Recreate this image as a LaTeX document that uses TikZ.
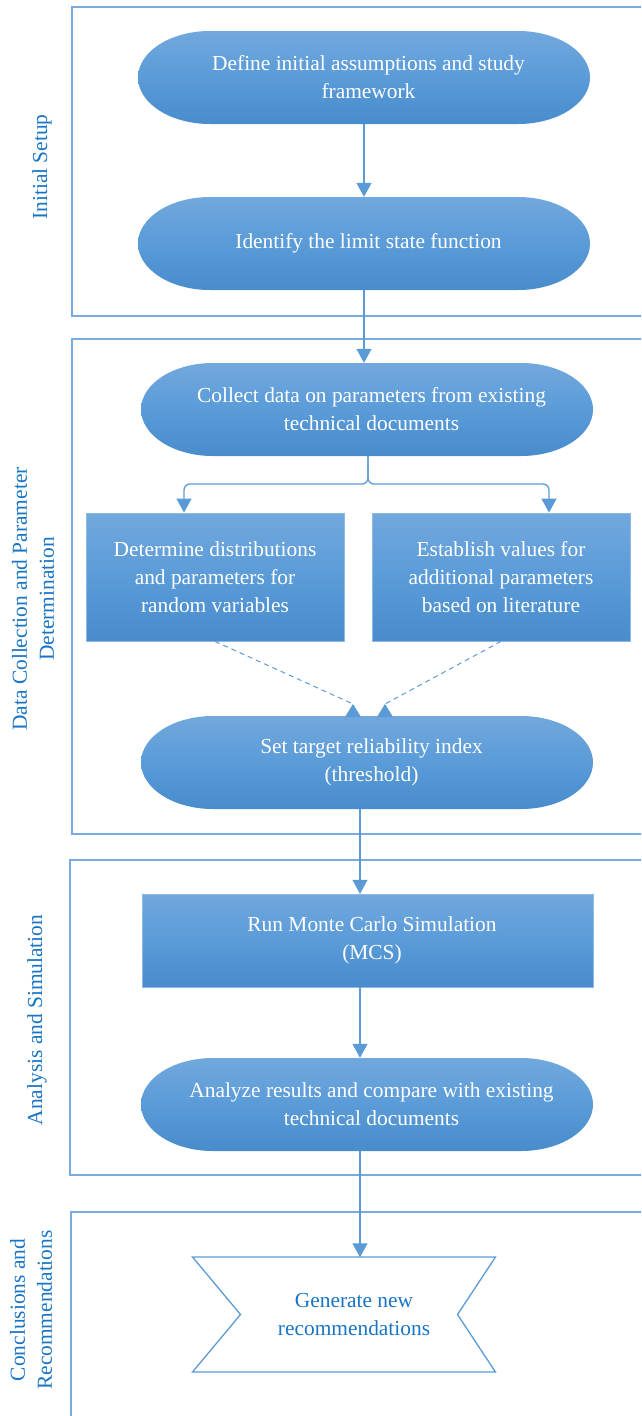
\documentclass[tikz,border=0pt]{standalone}
\usepackage{fontspec}
\setmainfont{Liberation Serif}
\usetikzlibrary{arrows.meta,backgrounds,calc}
\definecolor{gtop}{RGB}{114,168,221}
\definecolor{gmid}{RGB}{90,155,216}
\definecolor{gbot}{RGB}{72,140,204}
\definecolor{linec}{RGB}{91,155,213}
\definecolor{framec}{RGB}{120,172,224}
\definecolor{labc}{RGB}{24,116,196}
\definecolor{rectb}{RGB}{140,186,232}
\tikzset{
  txt/.style={font=\fontsize{21.4}{28}\selectfont, align=center, text=white, inner sep=0pt},
  stad/.style={txt, minimum width=452pt, minimum height=93pt},
  rbox/.style={txt, top color=gtop, bottom color=gbot, middle color=gmid, draw=rectb, line width=0.8pt},
  rfill/.style={top color=gtop, bottom color=gbot, middle color=gmid, draw=rectb, line width=0.8pt},
  lane/.style={draw=framec, line width=1.3pt},
  lanelab/.style={font=\fontsize{21.4}{27}\selectfont, align=center, text=labc, rotate=90, inner sep=0pt},
  conn/.style={draw=linec, line width=1.3pt, -{Triangle[width=15pt,length=14pt]}},
  dconn/.style={draw=linec, line width=1pt, dash pattern=on 5pt off 4pt},
  shade stad/.style={top color=gtop, bottom color=gbot, middle color=gmid},
}
% stadium shape behind node #1, whose text sits 4.5pt right of the shape's centre
\newcommand\stadbg[1]{%
  \shade[shade stad] ($(#1.center)+(-158.5,-46.5)$) -- ++(308,0)
    arc[start angle=90,end angle=-90,x radius=72pt,y radius=46.5pt]
    -- ++(-308,0)
    arc[start angle=270,end angle=90,x radius=72pt,y radius=46.5pt] -- cycle;}
\begin{document}
\begin{tikzpicture}[x=1pt,y=-1pt]
\clip (0,0) rectangle (641,1416);
% lanes
\draw[lane] (72,7) rectangle (700,316);
\draw[lane] (72,339) rectangle (700,834);
\draw[lane] (70,860) rectangle (700,1175);
\draw[lane] (71,1212) rectangle (700,1460);
\node[lanelab] (l1) at (42,167) {Initial Setup};
\node[lanelab] (l2) at (33,599) {Data Collection and Parameter\\Determination};
\node[lanelab] (l3) at (37,1020) {Analysis and Simulation};
\node[lanelab] (l4) at (31,1310) {Conclusions and\\Recommendations};
% nodes
\node[stad] (n1) at (368.5,77.5) {Define initial assumptions and study\\framework};
\node[stad] (n2) at (368.5,243.5) {Identify the limit state function};
\node[stad] (n3) at (371.5,409.5) {Collect data on parameters from existing\\technical documents};
\node[rbox, minimum width=258pt, minimum height=128pt] (n4a) at (215,577) {Determine distributions\\and parameters for\\random variables};
\node[rbox, minimum width=258pt, minimum height=128pt] (n4b) at (501,577) {Establish values for\\additional parameters\\based on literature};
\node[stad] (n5) at (371.5,762.5) {Set target reliability index\\(threshold)};
\node[stad] (n6) at (372,940.5) {Run Monte Carlo Simulation\\(MCS)};
\node[stad] (n7) at (371.5,1104.5) {Analyze results and compare with existing\\technical documents};
\node[txt, text=labc, minimum width=303pt, minimum height=115pt] (n8) at (354,1314.5) {Generate new\\recommendations};
\begin{pgfonlayer}{background}
\stadbg{n1}\stadbg{n2}\stadbg{n3}\stadbg{n5}\stadbg{n7}
\path[rfill] ($(n6.center)+(-230,-46.5)$) rectangle ++(451,93);
\end{pgfonlayer}
\draw[linec, line width=1.3pt, line join=miter] ($(n8.center)+(-161.5,-57.5)$) coordinate (r1)
  -- ++(303,0) -- ++(-38,57.5) -- ++(38,57.5) -- ++(-303,0) -- ++(48,-57.5) -- cycle;
% connectors
\coordinate (c1) at (364,0);
\draw[conn] (n1.south -| c1) -- (n2.north -| c1);
\draw[conn] (n2.south -| c1) -- (n3.north -| c1);
\coordinate (j) at (368,484);
\coordinate (la) at (184,484);
\coordinate (ra) at (549,484);
\draw[conn, rounded corners=6pt] (n3.south -| j) -- (j) -- (la) -- (la |- n4a.north);
\draw[conn, rounded corners=6pt] (n3.south -| j) -- (j) -- (ra) -- (ra |- n4b.north);
\coordinate (da) at (353,704);
\coordinate (db) at (385,704);
\draw[dconn] (n4a.south) -- (da);
\draw[dconn] (n4b.south) -- (db);
\fill[linec] (da) -- ++(8,13) -- ++(-16,0) -- cycle;
\fill[linec] (db) -- ++(8,13) -- ++(-16,0) -- cycle;
\coordinate (c5) at (360,0);
\draw[conn] (n5.south -| c5) -- (n6.north -| c5);
\draw[conn] (n6.south -| c5) -- (n7.north -| c5);
\draw[conn] (n7.south -| c5) -- ($(n8.north -| c5)+(0,0.5)$);
\end{tikzpicture}
\end{document}
